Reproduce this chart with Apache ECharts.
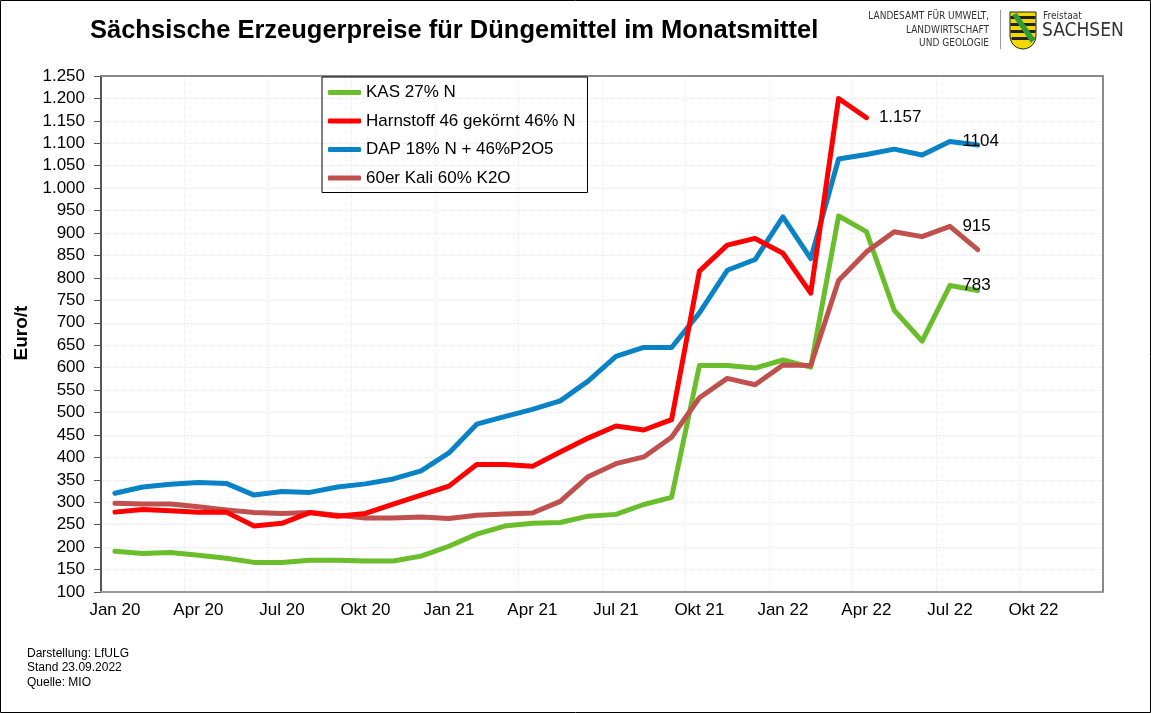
<!DOCTYPE html>
<html>
<head>
<meta charset="utf-8">
<script src="https://cdn.jsdelivr.net/npm/echarts@6/dist/echarts.min.js"></script>
<style>
html,body{margin:0;padding:0;background:#fff;}
#chart{width:1151px;height:713px;}
</style>
</head>
<body>
<div id="chart"></div>
<script>
// ---- data ----
const months = [
  'Jan 20','Feb 20','Mär 20','Apr 20','Mai 20','Jun 20','Jul 20','Aug 20','Sep 20','Okt 20','Nov 20','Dez 20',
  'Jan 21','Feb 21','Mär 21','Apr 21','Mai 21','Jun 21','Jul 21','Aug 21','Sep 21','Okt 21','Nov 21','Dez 21',
  'Jan 22','Feb 22','Mär 22','Apr 22','Mai 22','Jun 22','Jul 22','Aug 22','Sep 22','Okt 22','Nov 22','Dez 22'
];
const seriesNames = ['KAS 27% N', 'Harnstoff 46 gekörnt 46% N', 'DAP 18% N + 46%P2O5', '60er Kali 60% K2O'];
const kas = [191,186,188,182,175,166,166,171,171,169,169,180,
             202,229,247,253,255,269,273,295,311,605,605,599,
             617,601,938,903,728,659,783,772];
const harnstoff = [278,284,281,278,278,247,253,277,269,275,296,316,
                   336,384,384,380,412,443,470,461,484,815,873,888,
                   855,766,1200,1157];
const dap = [320,334,340,344,342,316,324,322,334,341,352,370,
             410,474,491,507,526,570,625,645,645,722,817,841,
             936,843,1065,1075,1087,1074,1104,1096];
const kali = [298,296,296,290,283,277,275,277,271,265,265,267,
              264,271,274,276,302,357,386,401,445,533,576,562,
              606,605,794,858,903,892,915,863];
const labelIndex = [30, 27, 30, 30];
const labelText = ['783', '1.157', '1104', '915'];
const yTicks = {min: 100, max: 1250, step: 50};

// ---- chart ----
const colors = ['#6abd2b', '#ff0000', '#0a82c6', '#c0504d'];
const FONT = 'Arial, "Liberation Sans", sans-serif';
const COND = '"DejaVu Sans Condensed", "DejaVu Sans", sans-serif';
const allData = [kas, harnstoff, dap, kali];

function buildData(arr, si) {
  return arr.map((v, i) => i === labelIndex[si]
    ? {value: v, label: {show: true, position: 'right', distance: 12, formatter: labelText[si],
        color: '#000', fontSize: 17, fontFamily: FONT}}
    : v);
}

// shield outline points (rounded bottom approximated)
const shieldPts = [[0,0],[26,0],[26,24]];
for (let k = 1; k < 12; k++) {
  const a = k / 12 * Math.PI;
  shieldPts.push([13 + 13 * Math.cos(a), 24 + 13 * Math.sin(a)]);
}
shieldPts.push([0,24]);

const chart = echarts.init(document.getElementById('chart'), null, {renderer: 'canvas'});
const option = {
  backgroundColor: '#fff',
  animation: false,
  color: colors,
  grid: {left: 101, top: 76, right: 48, bottom: 121, show: false},
  legend: {
    left: 322, top: 77, orient: 'vertical',
    itemWidth: 33, itemHeight: 5, itemGap: 11.5,
    padding: [7, 12, 6, 6],
    borderColor: '#000', borderWidth: 1,
    icon: 'roundRect',
    textStyle: {fontSize: 17, color: '#000', fontFamily: FONT},
    data: seriesNames
  },
  xAxis: {
    type: 'category', data: months, boundaryGap: true,
    axisLine: {lineStyle: {color: '#9a9a9a', width: 2}},
    axisTick: {interval: 2, length: 6, lineStyle: {color: '#9a9a9a', width: 1}},
    axisLabel: {interval: 2, color: '#000', fontSize: 17, fontFamily: FONT, margin: 10},
    splitLine: {show: true, interval: 2, lineStyle: {color: '#e8e8e8', type: 'dotted', width: 1}}
  },
  yAxis: {
    type: 'value', min: yTicks.min, max: yTicks.max, interval: yTicks.step,
    axisLine: {show: true, lineStyle: {color: '#555', width: 2}},
    axisTick: {show: true, length: 7, lineStyle: {color: '#555'}},
    axisLabel: {color: '#000', fontSize: 17, fontFamily: FONT, margin: 16,
      formatter: v => v >= 1000 ? Math.floor(v / 1000) + '.' + String(v % 1000).padStart(3, '0') : String(v)},
    splitLine: {show: true, lineStyle: {color: '#e8e8e8', type: 'dotted', width: 1}}
  },
  series: allData.map((arr, si) => ({
    name: seriesNames[si], type: 'line', data: buildData(arr, si),
    symbol: 'circle', symbolSize: 1, showSymbol: true, showAllSymbol: true,
    smooth: false,
    lineStyle: {width: 5, color: colors[si], cap: 'round', join: 'round'},
    itemStyle: {color: colors[si]},
    z: 3 + (si === 1 ? 1 : 0)
  })),
  graphic: [
    {type: 'rect', shape: {x: 0.5, y: 0.5, width: 1150, height: 712}, style: {fill: 'none', stroke: '#000', lineWidth: 1}, silent: true},
    // plot area top & right border
    {type: 'polyline', shape: {points: [[101, 76], [1103, 76], [1103, 592]]}, style: {stroke: '#8a8a8a', lineWidth: 2, fill: 'none'}, z: 1},
    {type: 'text', x: 90, y: 31, style: {text: 'Sächsische Erzeugerpreise für Düngemittel im Monatsmittel',
      font: 'bold 25.5px ' + FONT, fill: '#000', verticalAlign: 'middle'}},
    {type: 'text', x: 22, y: 333, rotation: Math.PI / 2,
      style: {text: 'Euro/t', font: 'bold 19px ' + FONT, fill: '#000', align: 'center', verticalAlign: 'middle'}},
    {type: 'text', x: 27, y: 646, style: {text: 'Darstellung: LfULG\nStand 23.09.2022\nQuelle: MIO',
      font: '12px ' + FONT, fill: '#000', lineHeight: 14.5}},
    {type: 'text', x: 989, y: 10, style: {text: 'LANDESAMT FÜR UMWELT,\nLANDWIRTSCHAFT\nUND GEOLOGIE',
      font: '10px ' + COND, fill: '#333', align: 'right', lineHeight: 13.5}},
    {type: 'line', shape: {x1: 1000.5, y1: 10, x2: 1000.5, y2: 49}, style: {stroke: '#999', lineWidth: 1}},
    {type: 'group', x: 1010, y: 12, children: [
      {type: 'polygon', shape: {points: shieldPts}, style: {fill: '#f3d800', stroke: '#222', lineWidth: 1}},
      {type: 'rect', shape: {x: 0.5, y: 4, width: 25, height: 3}, style: {fill: '#222'}},
      {type: 'rect', shape: {x: 0.5, y: 11, width: 25, height: 3}, style: {fill: '#222'}},
      {type: 'rect', shape: {x: 0.5, y: 18, width: 25, height: 3}, style: {fill: '#222'}},
      {type: 'rect', shape: {x: 1.5, y: 25, width: 23, height: 3}, style: {fill: '#222'}},
      {type: 'polygon', shape: {points: [[2,3],[7,1],[25,27],[21,31]]}, style: {fill: '#2e9a3a'}}
    ]},
    {type: 'text', x: 1043, y: 11, style: {text: 'Freistaat', font: '10px ' + COND, fill: '#333'}},
    {type: 'text', x: 1042, y: 22, style: {text: 'SACHSEN', font: '19px ' + COND, fill: '#333'}}
  ]
};
chart.setOption(option);
</script>
</body>
</html>
